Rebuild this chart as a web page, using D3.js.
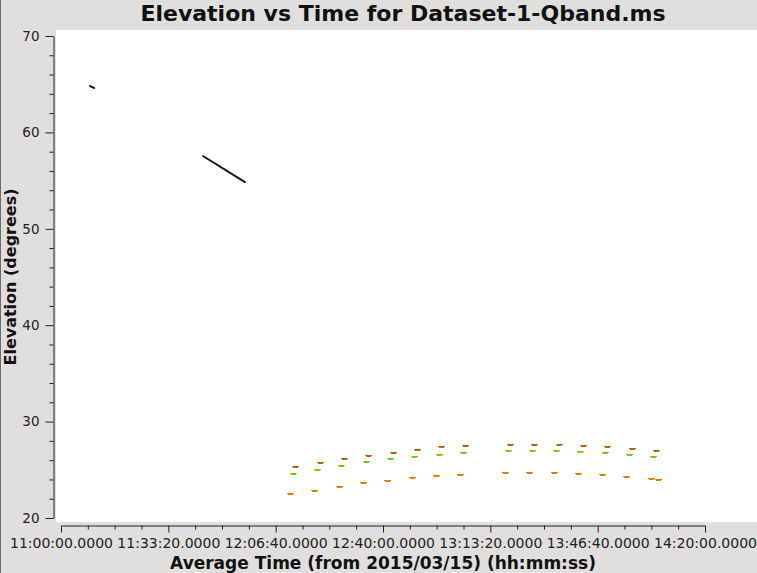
<!DOCTYPE html>
<html>
<head>
<meta charset="utf-8">
<script src="https://cdn.jsdelivr.net/npm/d3@7"></script>
<style>
html,body{margin:0;padding:0;background:#e0dfde;}
svg{display:block;}
text{font-family:"DejaVu Sans",sans-serif;}
</style>
</head>
<body>
<svg id="chart" width="757" height="573"></svg>
<script>
// ---- data ----
const titleText = "Elevation vs Time for Dataset-1-Qband.ms";
const xLabel = "Average Time (from 2015/03/15) (hh:mm:ss)";
const yLabel = "Elevation (degrees)";

const yTicks = [20, 30, 40, 50, 60, 70];
const xTickTimes = ["11:00:00", "11:33:20", "12:06:40", "12:40:00", "13:13:20", "13:46:40", "14:20:00"];

// black (first field) – two short tracks
const blackTrack1Times = ["11:09:00", "11:10:15"];
const blackTrack1Elev  = [64.81, 64.61];
const blackTrack2Times = ["11:44:06", "11:57:08"];
const blackTrack2Elev  = [57.55, 54.85];

// brown series
const brownTimes = ["12:12:40","12:20:26","12:27:53","12:35:21","12:43:06","12:50:34","12:58:01","13:05:28",
                    "13:19:27","13:26:54","13:34:40","13:42:07","13:49:34","13:57:20","14:04:47"];
const brownElev  = [25.29,25.71,26.12,26.43,26.74,27.05,27.37,27.47,27.57,27.57,27.57,27.47,27.37,27.16,26.95];

// green series
const greenTimes = ["12:12:03","12:19:30","12:26:58","12:34:43","12:42:11","12:49:38","12:57:24","13:04:51",
                    "13:18:49","13:26:17","13:33:44","13:41:11","13:48:57","13:56:24","14:03:51"];
const greenElev  = [24.56,24.98,25.39,25.81,26.12,26.33,26.54,26.74,26.95,26.95,26.95,26.85,26.74,26.54,26.33];

// orange series
const orangeTimes = ["12:11:07","12:18:34","12:26:20","12:33:47","12:41:15","12:49:01","12:56:28","13:03:55",
                     "13:17:54","13:25:21","13:33:07","13:40:34","13:48:01","13:55:28","14:03:14","14:05:24"];
const orangeElev  = [22.49,22.80,23.22,23.63,23.84,24.15,24.36,24.46,24.67,24.67,24.67,24.56,24.46,24.25,24.05,23.94];

// ---- helpers ----
const toSec = s => { const p = s.split(":").map(Number); return p[0]*3600 + p[1]*60 + p[2]; };
const pad2 = n => String(n).padStart(2, "0");
const fmtTime = t => `${pad2(Math.floor(t/3600))}:${pad2(Math.floor(t%3600/60))}:${pad2(Math.round(t%60))}.0000`;
const zip = (ts, es) => ts.map((t, i) => ({t: toSec(t), e: es[i]}));

const svg = d3.select("#chart");
const W = 757, H = 573;

svg.append("rect").attr("x", 0).attr("y", 0).attr("width", W).attr("height", H).attr("fill", "#e0dfde");
svg.append("line").attr("x1", 0.5).attr("x2", 0.5).attr("y1", 0).attr("y2", H).attr("stroke", "#6a6a6a");

// plot area
svg.append("rect").attr("x", 56).attr("y", 30).attr("width", W - 56).attr("height", 492).attr("fill", "#ffffff");

const xTickSecs = xTickTimes.map(toSec);
const x = d3.scaleLinear().domain([xTickSecs[0], xTickSecs[xTickSecs.length - 1]]).range([61, 705]);
const y = d3.scaleLinear().domain([20, 70]).range([518, 36]);

// minor tick values
const xMinor = d3.range(xTickSecs[0], xTickSecs[xTickSecs.length - 1] + 1, 500).filter(v => !xTickSecs.includes(v));
const yMinor = d3.range(20, 70.01, 2).filter(v => !yTicks.includes(v));

// Y axis
const gy = svg.append("g").attr("transform", "translate(53.5,0)");
gy.call(d3.axisLeft(y).tickValues(yTicks).tickSize(8).tickSizeOuter(0).tickPadding(6).tickFormat(d3.format("d")));
gy.append("g").call(d3.axisLeft(y).tickValues(yMinor).tickSize(4).tickSizeOuter(0).tickFormat(""))
  .select(".domain").remove();
gy.selectAll("path,line").attr("stroke", "#222");
gy.selectAll("text").attr("font-size", 13.5).attr("font-family", "DejaVu Sans").attr("fill", "#222");

// X axis
const gx = svg.append("g").attr("transform", "translate(0,525.5)");
gx.call(d3.axisBottom(x).tickValues(xTickSecs).tickSize(7).tickSizeOuter(0).tickPadding(6).tickFormat(fmtTime));
gx.append("g").call(d3.axisBottom(x).tickValues(xMinor).tickSize(4).tickSizeOuter(0).tickFormat(""))
  .select(".domain").remove();
gx.selectAll("path,line").attr("stroke", "#222");
gx.selectAll("text").attr("font-size", 14).attr("font-family", "DejaVu Sans").attr("fill", "#222");

// title + labels
svg.append("text").attr("x", 403).attr("y", 21).attr("text-anchor", "middle")
  .attr("font-size", 22).attr("font-weight", "bold").attr("fill", "#111").text(titleText);
svg.append("text").attr("x", 383).attr("y", 569).attr("text-anchor", "middle")
  .attr("font-size", 17).attr("font-weight", "bold").attr("fill", "#111").text(xLabel);
svg.append("text").attr("transform", "translate(16,277) rotate(-90)").attr("text-anchor", "middle")
  .attr("font-size", 16).attr("font-weight", "bold").attr("fill", "#111").text(yLabel);

// black tracks
const line = d3.line().x(d => x(d.t)).y(d => y(d.e));
[zip(blackTrack1Times, blackTrack1Elev), zip(blackTrack2Times, blackTrack2Elev)].forEach(tr => {
  svg.append("path").datum(tr).attr("d", line).attr("fill", "none")
    .attr("stroke", "#111").attr("stroke-width", 2).attr("stroke-linecap", "round");
});

// coloured scan markers
const markerPath = "M-3,-1h7v1h-1v1h-5v-1h-1z";
const series = [
  {data: zip(brownTimes, brownElev), color: "#b5650f"},
  {data: zip(greenTimes, greenElev), color: "#76cc00"},
  {data: zip(orangeTimes, orangeElev), color: "#e87b00"}
];
series.forEach(s => {
  svg.append("g").selectAll("path").data(s.data).join("path")
    .attr("transform", d => `translate(${Math.round(x(d.t))},${Math.round(y(d.e))})`)
    .attr("d", markerPath).attr("fill", s.color).attr("shape-rendering", "crispEdges");
});
</script>
</body>
</html>
